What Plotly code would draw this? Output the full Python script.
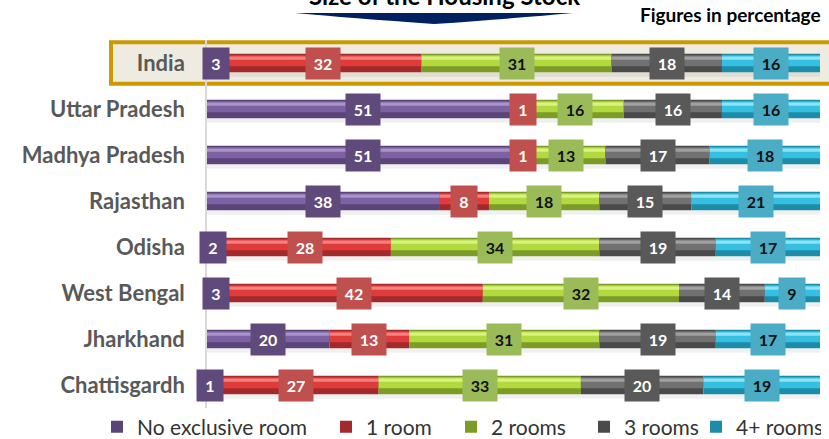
import plotly.graph_objects as go

states = ["India", "Uttar Pradesh", "Madhya Pradesh", "Rajasthan", "Odisha",
          "West Bengal", "Jharkhand", "Chattisgardh"]
series_names = ["No exclusive room", "1 room", "2 rooms", "3 rooms", "4+ rooms"]
no_room = [3, 51, 51, 38, 2, 3, 20, 1]
one_room = [32, 1, 1, 8, 28, 42, 13, 27]
two_rooms = [31, 16, 13, 18, 34, 32, 31, 33]
three_rooms = [18, 16, 17, 15, 19, 14, 19, 20]
four_plus = [16, 16, 18, 21, 17, 9, 17, 19]
series_values = [no_room, one_room, two_rooms, three_rooms, four_plus]

title_text = "Size of the Housing Stock"
note_text = "Figures in percentage"

# styles: (dark base, mid body, highlight, label bg, label text colour, legend entry width)
styles = [
    ("#5A4478", "#7D62A3", "#A993C9", "#604A7B", "white", 184),
    ("#A32A2A", "#E03B3B", "#F48080", "#C0504D", "white", 80),
    ("#7C9B27", "#B2DA3E", "#DAF282", "#9BBB59", "#111111", 88),
    ("#4A4A4A", "#717171", "#A0A0A0", "#595959", "white", 67),
    ("#1C8CA8", "#36BFE0", "#8EE3F4", "#4BACC6", "#111111", 80),
]

FONT = "Lato"
fig = go.Figure()

bases = [0] * len(states)
annotations = []
for name, vals, st in zip(series_names, series_values, styles):
    dark, mid, hi, lab_bg, lab_fg, lw = st
    b = list(bases)
    # soft shadow
    fig.add_trace(go.Bar(y=states, x=vals, base=b, orientation="h", width=0.10,
                         offset=-0.30, marker=dict(color="rgba(0,0,0,0.06)", line=dict(width=0)),
                         showlegend=False, hoverinfo="skip"))
    fig.add_trace(go.Bar(y=states, x=vals, base=b, orientation="h", width=0.40,
                         offset=-0.20, name=name, legendgroup=name, legendwidth=lw,
                         marker=dict(color=dark, line=dict(width=0))))
    fig.add_trace(go.Bar(y=states, x=vals, base=b, orientation="h", width=0.24,
                         offset=-0.07, marker=dict(color=mid, line=dict(width=0)),
                         showlegend=False, legendgroup=name, hoverinfo="skip"))
    fig.add_trace(go.Bar(y=states, x=vals, base=b, orientation="h", width=0.07,
                         offset=0.07, marker=dict(color=hi, line=dict(width=0)),
                         showlegend=False, legendgroup=name, hoverinfo="skip"))
    for s, v, b0 in zip(states, vals, b):
        annotations.append(dict(
            x=b0 + v / 2, y=s, xref="x", yref="y", text="<b>%d</b>" % v,
            showarrow=False, bgcolor=lab_bg, borderpad=6, height=19,
            width=14 if v < 10 else 22,
            font=dict(family=FONT, size=16, color=lab_fg)))
    bases = [a + v for a, v in zip(bases, vals)]

annotations.append(dict(x=0.388, y=1.077, xref="paper", yref="paper",
                        text="<b>%s</b>" % title_text, showarrow=False,
                        xanchor="center", yanchor="bottom",
                        font=dict(family=FONT, size=24, color="black")))
annotations.append(dict(x=1.005, y=1.068, xref="paper", yref="paper",
                        text="<b>%s</b>" % note_text, showarrow=False,
                        xanchor="right", yanchor="middle",
                        font=dict(family=FONT, size=19, color="black")))


def px(xp):
    return (xp - 207) / 613.0


def py(yp):
    return (408 - yp) / 368.0


arrow_path = "M %f %f L %f %f Q %f %f %f %f Q %f %f %f %f L %f %f Z" % (
    px(295), py(13), px(573), py(13),
    px(520), py(18), px(434), py(24),
    px(350), py(18), px(295), py(13),
    px(295), py(13))

shapes = [
    dict(type="rect", xref="paper", yref="y", x0=px(111), x1=px(835), y0=6.55, y1=7.45,
         line=dict(color="#CC9900", width=4), fillcolor="#EEECE1", layer="below"),
    dict(type="path", xref="paper", yref="paper", path=arrow_path,
         fillcolor="#002060", line=dict(width=0)),
]

fig.update_layout(
    width=829, height=439,
    margin=dict(l=207, r=9, t=40, b=31, autoexpand=False),
    plot_bgcolor="white", paper_bgcolor="white",
    barmode="overlay",
    xaxis=dict(range=[0, 100], visible=False, fixedrange=True),
    yaxis=dict(categoryorder="array", categoryarray=list(reversed(states)),
               range=[-0.5, 7.5], showline=True, linecolor="#D9D9D9", linewidth=1.5,
               ticks="", showgrid=False, ticklabelstandoff=16, automargin=False,
               tickfont=dict(family=FONT, size=22, color="#595959", weight="bold")),
    legend=dict(orientation="h", x=px(97), y=py(427), xanchor="left", yanchor="middle",
                font=dict(family=FONT, size=21, color="#333333"),
                itemwidth=30, bgcolor="rgba(0,0,0,0)"),
    annotations=annotations,
    shapes=shapes,
    showlegend=True,
)

fig.write_html("out.html", config={"displayModeBar": False},
               post_script="document.body.style.margin='0';document.body.style.overflow='hidden';")
